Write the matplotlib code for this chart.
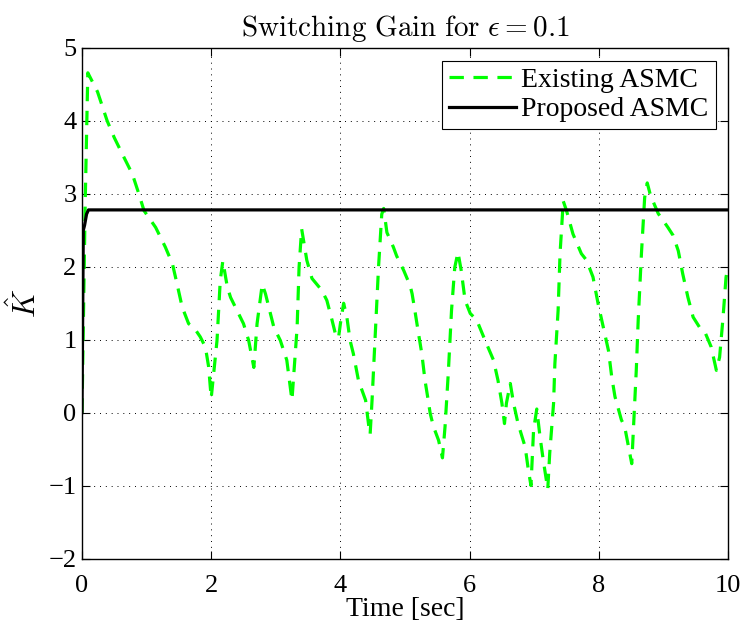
import matplotlib
matplotlib.use("Agg")
import matplotlib.pyplot as plt

plt.rcParams['mathtext.fontset'] = 'cm'
plt.rcParams['font.family'] = ['Liberation Serif', 'DejaVu Serif']

# Existing ASMC (green dashed)
t_exist = [0.0, 0.05, 0.09, 0.24, 0.39, 0.50, 0.65, 0.78, 0.88, 0.96, 1.14, 1.29, 1.40, 1.47,
           1.55, 1.65, 1.73, 1.83, 1.91, 1.96, 2.00, 2.09, 2.14, 2.18, 2.25, 2.30, 2.40,
           2.50, 2.58, 2.66, 2.71, 2.79, 2.84, 2.97, 3.07, 3.17, 3.23, 3.25, 3.28, 3.33,
           3.36, 3.40, 3.43, 3.48, 3.56, 3.71, 3.79, 3.87, 3.92, 3.97, 4.00, 4.05, 4.10,
           4.15, 4.20, 4.28, 4.39, 4.44, 4.46, 4.49, 4.54, 4.59, 4.64, 4.67, 4.72, 4.82,
           4.87, 4.98, 5.08, 5.11, 5.16, 5.21, 5.26, 5.31, 5.35, 5.39, 5.44, 5.52, 5.58,
           5.62, 5.67, 5.72, 5.77, 5.82, 5.87, 5.93, 6.01, 6.11, 6.24, 6.37, 6.44, 6.50,
           6.54, 6.57, 6.63, 6.68, 6.75, 6.86, 6.91, 6.95, 6.99, 7.04, 7.09, 7.14, 7.21,
           7.24, 7.30, 7.32, 7.37, 7.40, 7.45, 7.50, 7.60, 7.73, 7.81, 7.91, 7.99, 8.07,
           8.15, 8.20, 8.25, 8.35, 8.40, 8.45, 8.51, 8.53, 8.58, 8.61, 8.66, 8.71, 8.75,
           8.80, 8.92, 9.07, 9.15, 9.23, 9.30, 9.38, 9.46, 9.56, 9.64, 9.74, 9.82, 9.87,
           9.92, 9.97, 10.0]
k_exist = [0.0, 2.9, 4.66, 4.40, 4.00, 3.77, 3.50, 3.27, 3.00, 2.77, 2.54, 2.27, 2.04, 1.77,
           1.45, 1.22, 1.17, 1.04, 0.90, 0.63, 0.20, 0.99, 1.81, 2.08, 1.72, 1.58, 1.40,
           1.22, 0.99, 0.62, 1.22, 1.76, 1.63, 1.17, 0.99, 0.72, 0.31, 0.17, 0.54, 1.17,
           1.99, 2.52, 2.36, 2.09, 1.84, 1.68, 1.54, 1.27, 1.09, 1.02, 1.22, 1.50, 1.31,
           0.99, 0.81, 0.44, 0.17, -0.19, -0.30, 0.17, 1.08, 1.99, 2.72, 2.80, 2.47, 2.27,
           2.15, 1.95, 1.74, 1.63, 1.36, 1.08, 0.81, 0.44, 0.22, -0.01, -0.19, -0.38, -0.62,
           -0.19, 0.54, 1.40, 1.99, 2.20, 1.95, 1.54, 1.36, 1.27, 0.99, 0.72, 0.44, 0.13,
           -0.15, 0.13, 0.40, 0.13, -0.15, -0.47, -0.79, -1.00, -0.24, 0.05, -0.33, -0.65, -1.05,
           -0.56, 0.13, 0.67, 1.40, 2.18, 2.90, 2.77, 2.45, 2.18, 2.09, 1.86, 1.49, 1.17,
           0.85, 0.49, 0.22, -0.10, -0.19, -0.42, -0.70, -0.33, 0.58, 1.27, 2.18, 2.95, 3.15,
           2.98, 2.73, 2.54, 2.43, 2.22, 1.90, 1.58, 1.31, 1.17, 1.11, 0.90, 0.58, 0.76,
           1.27, 1.86, 2.0]

# Proposed ASMC (black solid)
t_prop = [0.0, 0.02, 0.04, 0.07, 0.10, 10.0]
k_prop = [0.0, 2.50, 2.57, 2.72, 2.78, 2.78]

xticks = [0, 2, 4, 6, 8, 10]
yticks = [-2, -1, 0, 1, 2, 3, 4, 5]

fig = plt.figure(figsize=(7.45, 6.31), dpi=100)
ax = fig.add_axes([82/745, 1 - 558.5/631, 646/745, (558.5 - 48)/631])

ax.plot(t_exist, k_exist, color=(0, 1, 0), linestyle=(0, (4.5, 3.0)), linewidth=2.3,
        label='Existing ASMC')
ax.plot(t_prop, k_prop, color='black', linewidth=2.3, label='Proposed ASMC')

ax.set_xlim(0, 10)
ax.set_ylim(-2, 5)
ax.set_xticks(xticks)
ax.set_yticks(yticks)
ax.set_yticklabels([('\u2212%d' % -v) if v < 0 else str(v) for v in yticks])
ax.tick_params(direction='in', top=True, right=True, labelsize=19, length=6, width=0.8)
ax.tick_params(axis='x', pad=12)
ax.tick_params(axis='y', pad=4)
ax.grid(True, color='black', linestyle=(0, (1, 5)), linewidth=0.7)
for s in ax.spines.values():
    s.set_linewidth(1.0)

ax.set_xlabel('Time [sec]', fontsize=20, labelpad=0)
ax.set_ylabel(r'$\hat{K}$', fontsize=22, labelpad=4)
ax.set_title(r'$\mathrm{Switching\ Gain\ for\ }\epsilon=0.1$', fontsize=21, pad=9)

leg = ax.legend(loc='upper right', fontsize=20, frameon=True, fancybox=False,
                edgecolor='black', framealpha=1, borderpad=0.25, labelspacing=0.15,
                handlelength=2.4, handletextpad=0.2, borderaxespad=0.45)
leg.get_frame().set_linewidth(0.8)

fig.savefig('out.png', dpi=100)
